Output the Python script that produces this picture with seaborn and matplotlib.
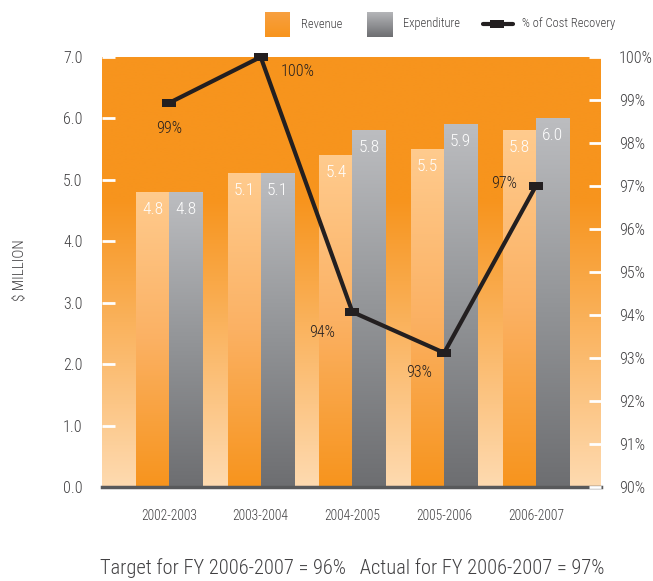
import numpy as np
import pandas as pd
import matplotlib
matplotlib.use("Agg")
import matplotlib.pyplot as plt
from matplotlib.colors import LinearSegmentedColormap
from matplotlib import font_manager
import seaborn as sns

years = ["2002-2003", "2003-2004", "2004-2005", "2005-2006", "2006-2007"]
revenue = [4.8, 5.1, 5.4, 5.5, 5.8]
expenditure = [4.8, 5.1, 5.8, 5.9, 6.0]
recovery = [98.93, 100.0, 94.07, 93.12, 97.0]
recovery_labels = ["99%", "100%", "94%", "93%", "97%"]
left_ticks = [0.0, 1.0, 2.0, 3.0, 4.0, 5.0, 6.0, 7.0]
right_ticks = list(range(90, 101))

sns.set_theme(style="white")

# pick a condensed font if available
fl = font_manager.fontManager.ttflist
names = {f.name for f in fl}
chosen, stretch = None, "normal"
for n in ["Roboto Condensed", "Liberation Sans Narrow", "Open Sans Condensed",
          "Noto Sans Condensed", "DejaVu Sans Condensed"]:
    if n in names:
        chosen = n
        break
if chosen is None:
    for base in ["Roboto", "Noto Sans", "Open Sans", "Liberation Sans", "DejaVu Sans"]:
        c = [f for f in fl if f.name == base and str(f.stretch) in
             ("condensed", "semi-condensed", "extra-condensed", "ultra-condensed", "75", "87.5", "62.5")]
        if c:
            chosen, stretch = base, c[0].stretch
            break
if chosen is None:
    chosen = "DejaVu Sans"
plt.rcParams["font.family"] = [chosen, "DejaVu Sans"]
plt.rcParams["font.stretch"] = stretch
plt.rcParams["font.weight"] = "light"

TXT = "#414042"
ORANGE = "#F7941D"
PALE = "#FEDAB0"

df = pd.DataFrame({
    "Year": years * 2,
    "Value": revenue + expenditure,
    "Series": ["Revenue"] * 5 + ["Expenditure"] * 5,
})

fig = plt.figure(figsize=(6.53, 5.81), dpi=100)
ax = fig.add_axes([102 / 653, 1 - 487 / 581, 499 / 653, 430 / 581])

sns.barplot(data=df, x="Year", y="Value", hue="Series", hue_order=["Revenue", "Expenditure"],
            width=0.72, gap=0, ax=ax, legend=False, linewidth=0, zorder=3)

# background gradient
t = np.linspace(0, 1, 256)
bg_cmap = LinearSegmentedColormap.from_list("bg", [PALE, ORANGE])
bg = np.clip(t / 0.67, 0, 1)[:, None]
ax.imshow(bg, cmap=bg_cmap, vmin=0, vmax=1, extent=[0, 1, 0, 1], transform=ax.transAxes,
          origin="lower", aspect="auto", zorder=0, interpolation="bilinear")

rev_cmap = LinearSegmentedColormap.from_list("rev", [ORANGE, "#FBB163", "#FFCB8E"])
exp_cmap = LinearSegmentedColormap.from_list("exp", ["#6D6E71", "#939598", "#BCBDC0"])
grad = np.linspace(0, 1, 256)[:, None]
bars_sorted = sorted(list(ax.patches), key=lambda p: p.get_x())
for i, p in enumerate(bars_sorted):
    x0, w, h = p.get_x(), p.get_width(), p.get_height()
    cm = rev_cmap if i % 2 == 0 else exp_cmap
    p.set_facecolor("none")
    ax.imshow(grad, cmap=cm, extent=[x0, x0 + w, 0, h], origin="lower", aspect="auto",
              zorder=3, interpolation="bilinear")
    ax.annotate(f"{h:.1f}", (x0 + w / 2, h), xytext=(0, -17), textcoords="offset pixels",
                ha="center", va="center", color="white", fontsize=12.5, zorder=5)

ax.set_xlim(-0.73, 4.71)
ax.set_ylim(0, 7)
ax.set_yticks(left_ticks)
ax.set_yticklabels([f"{v:.1f}" for v in left_ticks])
ax.tick_params(axis="y", direction="in", length=9, width=2, colors="white",
               labelcolor=TXT, labelsize=11.5, pad=14, left=True)
ax.tick_params(axis="x", length=0, pad=16, labelsize=9.8, labelcolor=TXT)
ax.set_xlabel("")
ax.set_ylabel("")
for s in ["top", "right", "left"]:
    ax.spines[s].set_visible(False)
ax.spines["bottom"].set_color("#58595B")
ax.spines["bottom"].set_linewidth(2.5)
ax.spines["bottom"].set_zorder(6)

ax2 = ax.twinx()
marker = [(-1, -0.62), (1, -0.62), (1, 0.62), (-1, 0.62), (-1, -0.62)]
sns.lineplot(x=np.arange(len(years)), y=recovery, ax=ax2, color="#231F20", linewidth=3,
             marker=marker, markersize=10, markeredgewidth=0, markerfacecolor="#231F20",
             clip_on=False, zorder=7, legend=False)
ax2.set_ylim(90, 100)
ax2.set_yticks(right_ticks)
ax2.set_yticklabels([f"{v}%" for v in right_ticks])
ax2.tick_params(axis="y", direction="in", length=9, width=2, colors="white",
                labelcolor=TXT, labelsize=11.5, pad=13, right=True)
for s in ["top", "right", "left", "bottom"]:
    ax2.spines[s].set_visible(False)
ax2.set_xlim(-0.73, 4.71)

offsets = [(0, -25), (37, -15), (-30, -21), (-25, -20), (-32, 3)]
for i, (v, lab) in enumerate(zip(recovery, recovery_labels)):
    ax2.annotate(lab, (i, v), xytext=offsets[i], textcoords="offset pixels",
                 ha="center", va="center", color="#231F20", fontsize=11.5, zorder=8)

# legend
lax = fig.add_axes([0, 0, 1, 1], zorder=10)
lax.axis("off")
leg_rev = LinearSegmentedColormap.from_list("lr", [ORANGE, "#F8A040"])
leg_exp = LinearSegmentedColormap.from_list("le", ["#6D6E71", "#B5B6B9"])
lax.imshow(grad, cmap=leg_rev, extent=[265, 290, 37, 12], origin="lower", aspect="auto")
lax.imshow(grad, cmap=leg_exp, extent=[367, 393, 37, 12], origin="lower", aspect="auto")
lax.plot([483, 513], [24, 24], color="#231F20", linewidth=3)
lax.plot([497], [24], marker=marker, markersize=10, color="#231F20", markeredgewidth=0)
lax.text(301, 24, "Revenue", va="center", ha="left", fontsize=9, color=TXT)
lax.text(403, 24, "Expenditure", va="center", ha="left", fontsize=9, color=TXT)
lax.text(522, 24, "% of Cost Recovery", va="center", ha="left", fontsize=9, color=TXT)
lax.set_xlim(0, 653)
lax.set_ylim(581, 0)

fig.text(20 / 653, 1 - 270 / 581, "$ MILLION", rotation=90, ha="center", va="center",
         fontsize=11, color=TXT)
fig.text(352 / 653, 1 - 568 / 581,
         "Target for FY 2006-2007 = 96%   Actual for FY 2006-2007 = 97%",
         ha="center", va="center", fontsize=14.8, color=TXT)

fig.savefig("out.png", dpi=100)
